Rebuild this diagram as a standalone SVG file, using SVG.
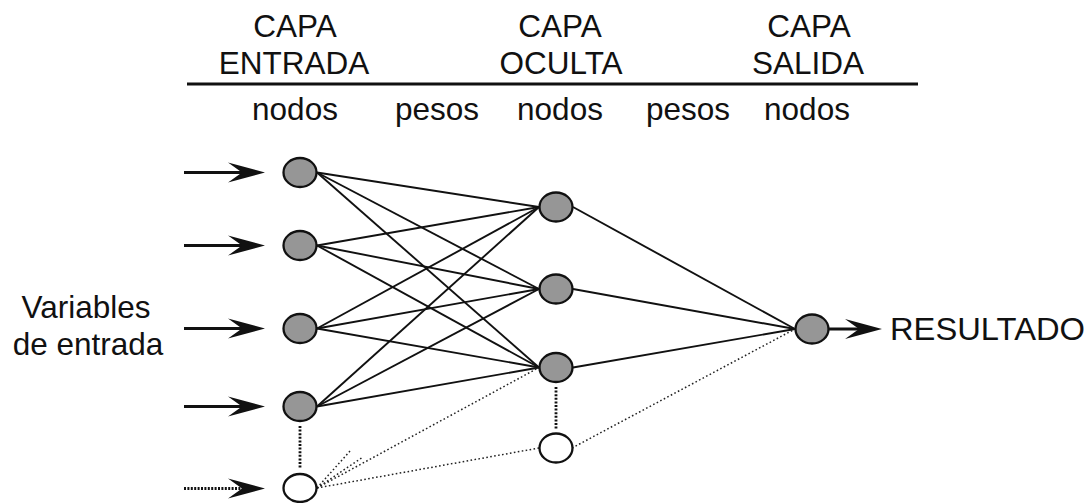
<svg xmlns="http://www.w3.org/2000/svg" xmlns:xlink="http://www.w3.org/1999/xlink" width="1091" height="503" viewBox="0 0 1091 503">
  <style>
    .lbl { font-family: "Liberation Sans", Arial, Helvetica, sans-serif; font-size: 31.5px; fill: #111; }
    .mid { text-anchor: middle; }
    .node { fill: #969696; stroke: #111; stroke-width: 2.3; }
    .empty { fill: #fff; stroke: #111; stroke-width: 2.3; }
    .w { stroke: #111; stroke-width: 1.9; fill: none; }
    .wdot { stroke: #222; stroke-width: 1.5; stroke-dasharray: 1.6 2.4; fill: none; }
    .vdot { stroke: #111; stroke-width: 2.8; stroke-dasharray: 2 1.6; fill: none; }
    .shaft { stroke: #111; stroke-width: 2.8; fill: none; }
    .shaftdot { stroke: #111; stroke-width: 2.8; stroke-dasharray: 2 1.4; fill: none; }
    .head { fill: #111; }
  </style>
  <defs>
    <!-- notched arrowhead, tip at origin -->
    <path id="ah" d="M0 0 L-37 -10 L-23 0 L-37 10 Z"/>
  </defs>
  <rect width="1091" height="503" fill="#fff"/>

  <!-- header -->
  <g id="header">
    <text class="lbl mid" x="295" y="37">CAPA</text>
    <text class="lbl mid" x="294" y="74">ENTRADA</text>
    <text class="lbl mid" x="560" y="37">CAPA</text>
    <text class="lbl mid" x="561" y="74">OCULTA</text>
    <text class="lbl mid" x="809" y="37">CAPA</text>
    <text class="lbl mid" x="808" y="74">SALIDA</text>
    <line x1="187" y1="84" x2="918" y2="84" stroke="#111" stroke-width="2.8"/>
    <text class="lbl mid" x="295" y="120">nodos</text>
    <text class="lbl mid" x="437" y="120">pesos</text>
    <text class="lbl mid" x="560" y="120">nodos</text>
    <text class="lbl mid" x="688" y="120">pesos</text>
    <text class="lbl mid" x="807" y="120">nodos</text>
  </g>

  <g id="input-label">
    <text class="lbl mid" x="86" y="318">Variables</text>
    <text class="lbl mid" x="88" y="355">de entrada</text>
  </g>

  <!-- connectors -->
  <g id="connectors">
    <!-- input -> hidden -->
    <line class="w" x1="317" y1="172.5" x2="539" y2="207"/>
    <line class="w" x1="317" y1="172.5" x2="539" y2="289"/>
    <line class="w" x1="317" y1="172.5" x2="539" y2="367.5"/>
    <line class="w" x1="317" y1="245.5" x2="539" y2="207"/>
    <line class="w" x1="317" y1="245.5" x2="539" y2="289"/>
    <line class="w" x1="317" y1="245.5" x2="539" y2="367.5"/>
    <line class="w" x1="317" y1="328.5" x2="539" y2="207"/>
    <line class="w" x1="317" y1="328.5" x2="539" y2="289"/>
    <line class="w" x1="317" y1="328.5" x2="539" y2="367.5"/>
    <line class="w" x1="317" y1="406.5" x2="539" y2="207"/>
    <line class="w" x1="317" y1="406.5" x2="539" y2="289"/>
    <line class="w" x1="317" y1="406.5" x2="539" y2="367.5"/>
    <!-- hidden -> output -->
    <line class="w" x1="573" y1="207" x2="795" y2="329"/>
    <line class="w" x1="573" y1="289" x2="795" y2="329"/>
    <line class="w" x1="573" y1="367.5" x2="795" y2="329"/>
    <!-- additional (dotted) units -->
    <line class="wdot" x1="317" y1="488" x2="350" y2="451"/>
    <line class="wdot" x1="317" y1="488" x2="363" y2="457"/>
    <line class="wdot" x1="317" y1="488" x2="539" y2="367.5"/>
    <line class="wdot" x1="317" y1="488" x2="539" y2="448"/>
    <line class="wdot" x1="572" y1="448" x2="795" y2="329"/>
    <line class="vdot" x1="300" y1="426" x2="300" y2="468"/>
    <line class="vdot" x1="556" y1="387" x2="556" y2="430"/>
    <!-- input arrows -->
    <line class="shaft" x1="184" y1="172.5" x2="245" y2="172.5"/>
    <use xlink:href="#ah" class="head" x="265" y="172.5"/>
    <line class="shaft" x1="184" y1="245.5" x2="245" y2="245.5"/>
    <use xlink:href="#ah" class="head" x="265" y="245.5"/>
    <line class="shaft" x1="184" y1="328.5" x2="245" y2="328.5"/>
    <use xlink:href="#ah" class="head" x="265" y="328.5"/>
    <line class="shaft" x1="184" y1="406.5" x2="245" y2="406.5"/>
    <use xlink:href="#ah" class="head" x="265" y="406.5"/>
    <line class="shaftdot" x1="184" y1="488.5" x2="243" y2="488.5"/>
    <use xlink:href="#ah" class="head" x="265" y="488.5"/>
    <!-- output arrow -->
    <line class="shaft" x1="828" y1="329" x2="862" y2="329"/>
    <use xlink:href="#ah" class="head" x="882" y="329"/>
  </g>

  <!-- input layer -->
  <g id="in1"><ellipse class="node" cx="300" cy="172.5" rx="16.5" ry="14.5"/></g>
  <g id="in2"><ellipse class="node" cx="300" cy="245.5" rx="16.5" ry="14.5"/></g>
  <g id="in3"><ellipse class="node" cx="300" cy="328.5" rx="16.5" ry="14.5"/></g>
  <g id="in4"><ellipse class="node" cx="300" cy="406.5" rx="16.5" ry="14.5"/></g>
  <g id="in5"><ellipse class="empty" cx="300" cy="488" rx="16.5" ry="14"/></g>

  <!-- hidden layer -->
  <g id="hid1"><ellipse class="node" cx="556" cy="207" rx="16.5" ry="14.5"/></g>
  <g id="hid2"><ellipse class="node" cx="556" cy="289" rx="16.5" ry="14.5"/></g>
  <g id="hid3"><ellipse class="node" cx="556" cy="367.5" rx="16.5" ry="14.5"/></g>
  <g id="hid4"><ellipse class="empty" cx="556" cy="448" rx="16.5" ry="14.5"/></g>

  <!-- output layer -->
  <g id="out1"><ellipse class="node" cx="812" cy="329" rx="16.5" ry="14.5"/></g>
  <g id="result"><text class="lbl" x="890" y="340" textLength="195" lengthAdjust="spacingAndGlyphs">RESULTADO</text></g>
</svg>
